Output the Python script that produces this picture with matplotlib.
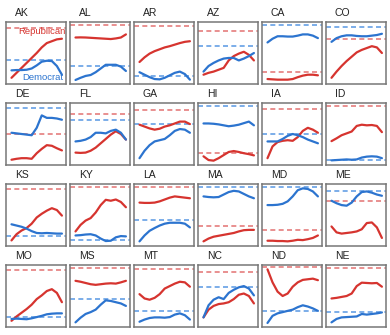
import numpy as np
import matplotlib.pyplot as plt

plt.rcParams["font.family"] = ["Liberation Sans", "DejaVu Sans"]

states = ["AK", "AL", "AR", "AZ", "CA", "CO",
          "DE", "FL", "GA", "HI", "IA", "ID",
          "KS", "KY", "LA", "MA", "MD", "ME",
          "MO", "MS", "MT", "NC", "ND", "NE"]

# smoothed share per panel (each panel on its own scale)
rep_lines = [
    [0.10, 0.18, 0.26, 0.34, 0.42, 0.50, 0.59, 0.66, 0.69, 0.72, 0.73],
    [0.75, 0.752, 0.75, 0.745, 0.74, 0.735, 0.73, 0.725, 0.735, 0.75, 0.80],
    [0.355, 0.43, 0.49, 0.53, 0.56, 0.59, 0.61, 0.635, 0.66, 0.68, 0.69],
    [0.15, 0.18, 0.20, 0.23, 0.26, 0.38, 0.45, 0.49, 0.52, 0.47, 0.38],
    [0.08, 0.075, 0.07, 0.07, 0.07, 0.08, 0.11, 0.135, 0.15, 0.15, 0.14],
    [0.10, 0.20, 0.29, 0.37, 0.44, 0.51, 0.55, 0.58, 0.61, 0.59, 0.50],
    [0.085, 0.10, 0.11, 0.11, 0.10, 0.19, 0.26, 0.32, 0.31, 0.27, 0.235],
    [0.20, 0.195, 0.20, 0.23, 0.28, 0.35, 0.42, 0.49, 0.545, 0.50, 0.41],
    [0.65, 0.62, 0.59, 0.57, 0.585, 0.62, 0.64, 0.67, 0.70, 0.70, 0.66],
    [0.14, 0.08, 0.07, 0.11, 0.16, 0.21, 0.225, 0.21, 0.19, 0.175, 0.155],
    [0.11, 0.30, 0.37, 0.39, 0.40, 0.39, 0.45, 0.55, 0.60, 0.57, 0.52],
    [0.385, 0.43, 0.48, 0.51, 0.54, 0.63, 0.65, 0.64, 0.645, 0.63, 0.53],
    [0.09, 0.19, 0.25, 0.29, 0.36, 0.46, 0.52, 0.57, 0.61, 0.58, 0.49],
    [0.235, 0.34, 0.41, 0.45, 0.54, 0.66, 0.745, 0.73, 0.75, 0.71, 0.625],
    [0.70, 0.695, 0.695, 0.70, 0.72, 0.75, 0.78, 0.80, 0.79, 0.78, 0.77],
    [0.075, 0.12, 0.15, 0.165, 0.18, 0.195, 0.21, 0.235, 0.255, 0.26, 0.26],
    [0.085, 0.085, 0.08, 0.08, 0.075, 0.085, 0.10, 0.095, 0.11, 0.13, 0.17],
    [0.315, 0.22, 0.20, 0.21, 0.22, 0.235, 0.27, 0.37, 0.38, 0.30, 0.13],
    [0.10, 0.17, 0.23, 0.29, 0.36, 0.45, 0.51, 0.58, 0.61, 0.55, 0.40],
    [0.745, 0.73, 0.71, 0.69, 0.68, 0.69, 0.70, 0.705, 0.70, 0.72, 0.745],
    [0.53, 0.46, 0.44, 0.47, 0.53, 0.62, 0.66, 0.70, 0.73, 0.72, 0.65],
    [0.155, 0.28, 0.34, 0.37, 0.38, 0.40, 0.45, 0.52, 0.54, 0.50, 0.38],
    [0.93, 0.72, 0.57, 0.50, 0.54, 0.65, 0.72, 0.76, 0.77, 0.78, 0.755],
    [0.46, 0.47, 0.485, 0.50, 0.54, 0.66, 0.715, 0.71, 0.705, 0.71, 0.65],
]
dem_lines = [
    [0.22, 0.225, 0.225, 0.23, 0.25, 0.30, 0.36, 0.375, 0.37, 0.29, 0.15],
    [0.065, 0.10, 0.13, 0.145, 0.19, 0.25, 0.31, 0.31, 0.31, 0.28, 0.21],
    [0.19, 0.15, 0.11, 0.08, 0.075, 0.10, 0.14, 0.18, 0.20, 0.16, 0.07],
    [0.20, 0.29, 0.34, 0.38, 0.41, 0.42, 0.42, 0.38, 0.41, 0.45, 0.50],
    [0.67, 0.73, 0.77, 0.77, 0.765, 0.765, 0.78, 0.80, 0.80, 0.78, 0.74],
    [0.68, 0.74, 0.77, 0.785, 0.785, 0.775, 0.77, 0.77, 0.78, 0.79, 0.81],
    [0.52, 0.51, 0.50, 0.49, 0.48, 0.60, 0.80, 0.76, 0.76, 0.75, 0.73],
    [0.38, 0.39, 0.41, 0.45, 0.52, 0.52, 0.51, 0.55, 0.57, 0.52, 0.41],
    [0.11, 0.23, 0.32, 0.38, 0.40, 0.42, 0.48, 0.55, 0.58, 0.57, 0.52],
    [0.67, 0.67, 0.665, 0.655, 0.64, 0.625, 0.635, 0.65, 0.675, 0.70, 0.64],
    [0.38, 0.38, 0.38, 0.42, 0.47, 0.50, 0.48, 0.45, 0.41, 0.38, 0.35],
    [0.075, 0.08, 0.085, 0.09, 0.085, 0.09, 0.12, 0.135, 0.14, 0.135, 0.11],
    [0.35, 0.33, 0.31, 0.28, 0.24, 0.21, 0.205, 0.21, 0.205, 0.20, 0.20],
    [0.17, 0.175, 0.185, 0.19, 0.17, 0.12, 0.08, 0.085, 0.14, 0.16, 0.155],
    [0.075, 0.17, 0.245, 0.29, 0.33, 0.36, 0.375, 0.375, 0.375, 0.36, 0.30],
    [0.80, 0.79, 0.785, 0.79, 0.83, 0.87, 0.89, 0.88, 0.84, 0.80, 0.77],
    [0.66, 0.66, 0.665, 0.68, 0.72, 0.80, 0.90, 0.93, 0.92, 0.88, 0.80],
    [0.73, 0.69, 0.66, 0.65, 0.70, 0.80, 0.87, 0.88, 0.86, 0.83, 0.81],
    [0.13, 0.135, 0.13, 0.125, 0.14, 0.16, 0.18, 0.205, 0.215, 0.22, 0.22],
    [0.075, 0.15, 0.21, 0.24, 0.28, 0.36, 0.43, 0.42, 0.40, 0.38, 0.34],
    [0.085, 0.12, 0.145, 0.155, 0.155, 0.15, 0.16, 0.20, 0.22, 0.19, 0.12],
    [0.155, 0.35, 0.44, 0.48, 0.45, 0.55, 0.60, 0.64, 0.66, 0.62, 0.51],
    [0.065, 0.18, 0.22, 0.24, 0.26, 0.28, 0.32, 0.35, 0.33, 0.30, 0.26],
    [0.075, 0.13, 0.155, 0.16, 0.165, 0.17, 0.21, 0.20, 0.21, 0.22, 0.235],
]
# reference levels (dashed)
rep_levels = [0.91, 0.957, 0.93, 0.85, 0.19, 0.73,
              0.50, 0.82, 0.89, 0.20, 0.90, 0.947,
              0.915, 0.947, 0.947, 0.33, 0.26, 0.73,
              0.915, 0.947, 0.93, 0.88, 0.97, 0.947]
dem_levels = [0.38, 0.285, 0.124, 0.61, 0.946, 0.914,
              0.915, 0.72, 0.66, 0.947, 0.50, 0.075,
              0.165, 0.10, 0.42, 0.947, 0.947, 0.88,
              0.165, 0.45, 0.26, 0.65, 0.26, 0.245]

RED = "#d6342f"
BLUE = "#2c74cf"
RED_D = "#e06666"
BLUE_D = "#4a8fe0"

W, H = 390, 335
fig = plt.figure(figsize=(W / 100, H / 100), dpi=100)

x = np.arange(len(rep_lines[0]))
for i, st in enumerate(states):
    r, c = divmod(i, 6)
    left = 5.5 + 64 * c
    top = 22 + 81 * r
    ax = fig.add_axes([left / W, (H - top - 62) / H, 60 / W, 62 / H])
    ax.axhline(rep_levels[i], color=RED_D, lw=1.2, ls=(0, (3, 2)), alpha=0.85)
    ax.axhline(dem_levels[i], color=BLUE_D, lw=1.2, ls=(0, (3, 2)), alpha=0.85)
    ax.plot(x, rep_lines[i], color=RED, lw=1.6, solid_capstyle="round")
    ax.plot(x, dem_lines[i], color=BLUE, lw=1.6, solid_capstyle="round")
    ax.set_xlim(-1.19, 10.71)
    ax.set_ylim(0, 1)
    ax.set_xticks([])
    ax.set_yticks([])
    for sp in ax.spines.values():
        sp.set_color("#777777")
        sp.set_linewidth(1.1)
    ax.text(0.155, 1.15, st, transform=ax.transAxes, fontsize=7.5,
            color="#222222", ha="left", va="center")
    if st == "AK":
        ax.text(1.0, 0.84, "Republican", transform=ax.transAxes,
                fontsize=6.8, color=RED, ha="right", va="center")
        ax.text(0.96, 0.10, "Democrat", transform=ax.transAxes,
                fontsize=6.8, color=BLUE, ha="right", va="center")

fig.savefig("out.png", dpi=100)
